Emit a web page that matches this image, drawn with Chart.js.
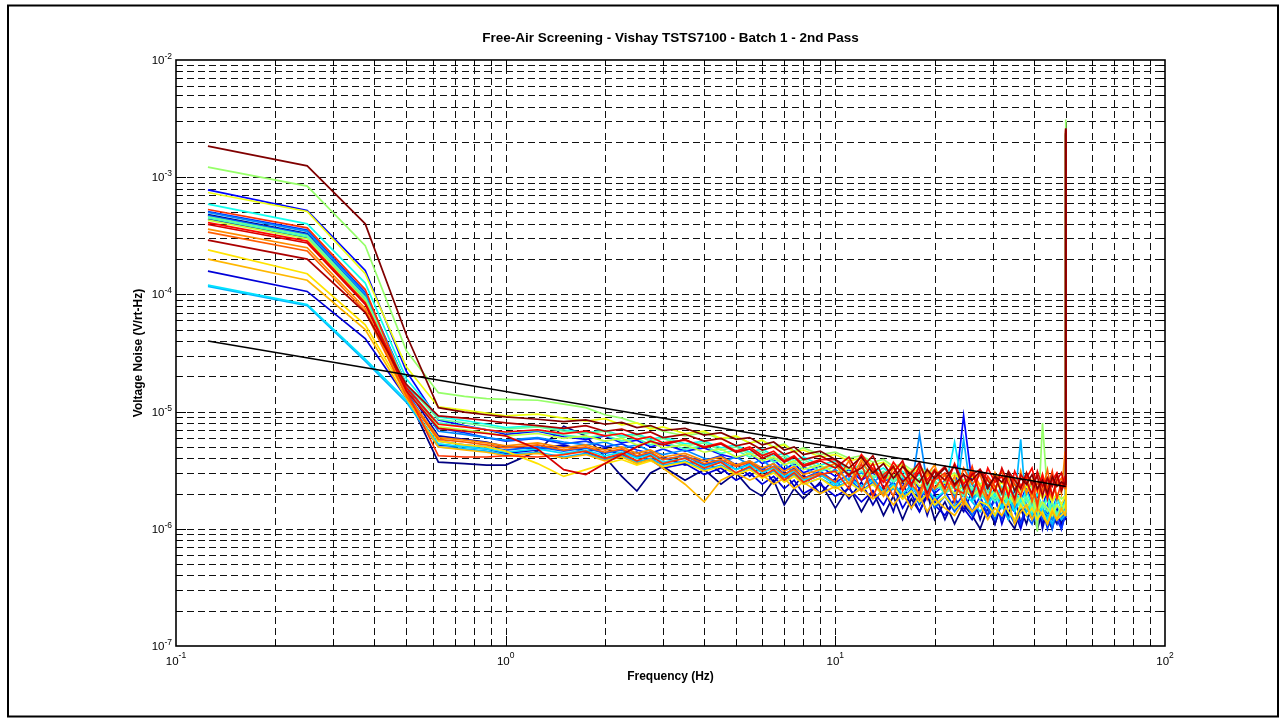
<!DOCTYPE html>
<html>
<head>
<meta charset="utf-8">
<script src="https://cdn.jsdelivr.net/npm/chart.js@4.4.1/dist/chart.umd.min.js"></script>
<style>
html, body { margin: 0; padding: 0; background: #fff; }
</style>
</head>
<body>
<canvas id="noiseChart" width="1286" height="723"></canvas>
<script>
// frequency bins (Hz)
var freqHz = [0.125,0.25,0.375,0.5,0.625,0.75,0.875,1,1.25,1.5,
  1.75,2,2.25,2.5,2.75,3,3.5,4,4.5,5,
  5.5,6,6.5,7,7.5,8,9,10,11,12,
  13,14,15,16,17,18,19,20,21.5,23,
  24.5,26,27.5,29,30.5,32,33.5,35,36.5,38,
  39.5,41,42.5,44,45.5,47,48.5,49.75,50];

// voltage noise per sensor, in uV/rt-Hz
var sensor01 = [480,330,95,14,3.7,3.6,3.5,3.5,4.6,7.5, 6.2,4.1,2.8,2.1,3.0,3.4,2.6,3.2,2.4,3.0, 2.2,1.9,2.6,1.6,2.2,1.8,2.5,1.5,2.3,1.4, 2.1,1.3,1.9,1.2,1.8,1.4,2.0,1.2,1.7,1.1, 1.6,1.3,1.0,1.5,1.1,1.7,1.2,1.0,1.5,1.1, 1.6,1.0,1.4,1.2,1.0,1.5,1.1,1.3,2400];
var sensor02 = [440,305,90,16,6.2,5.8,5.5,5.0,4.8,5.2, 4.6,4.9,4.2,4.5,3.8,4.1,3.5,3.9,3.0,3.6, 2.8,3.4,2.5,3.1,2.3,2.9,2.0,2.7,1.8,2.5, 1.6,2.3,1.4,2.6,1.5,2.2,1.3,2.0,1.2,1.8, 1.4,2.1,1.2,1.9,1.1,1.7,1.3,2.0,1.1,1.6, 1.2,1.8,1.0,1.5,1.3,1.1,1.6,1.2,2300];
var sensor03 = [158,106,42,13,5.2,5.0,4.8,4.4,4.7,5.1, 4.5,4.0,4.3,3.7,3.9,3.3,3.6,2.9,3.3,2.6, 3.0,2.4,2.8,2.2,2.6,2.0,2.4,1.9,2.2,1.7, 2.1,1.6,2.3,1.5,2.0,1.4,1.9,1.6,1.3,1.8, 1.5,1.2,1.7,1.3,1.9,1.1,1.6,1.4,1.0,1.5, 1.3,1.7,1.1,1.4,1.2,1.6,1.0,1.3,2350];
var sensor04 = [780,520,160,22,8.5,7.6,7.0,6.4,6.8,6.1, 5.8,6.2,5.4,5.7,5.0,5.3,4.6,4.9,4.3,4.0, 4.4,3.6,3.9,3.2,3.6,3.0,3.4,2.8,3.2,2.6, 3.0,2.5,2.9,2.3,2.7,2.2,2.5,2.0,2.4,1.9, 9.2,2.4,1.8,2.3,1.7,2.2,1.6,2.1,1.7,2.3, 1.6,2.0,1.5,2.2,1.4,1.9,1.5,1.8,2450];
var sensor05 = [510,355,104,17,7.2,6.6,6.0,5.6,5.9,5.3, 5.6,5.0,5.3,4.7,4.4,4.8,4.1,3.8,4.2,3.5, 3.8,3.2,3.6,2.9,3.3,2.7,3.1,2.5,2.9,2.3, 2.7,2.1,2.5,1.9,2.4,1.8,2.2,1.7,2.1,1.5, 2.0,1.4,1.9,1.3,1.8,1.2,1.7,1.4,1.1,1.6, 1.3,1.1,1.5,1.0,1.4,1.2,1.0,1.3,2300];
var sensor06 = [470,325,97,15,5.6,5.2,5.0,4.7,5.0,4.6, 4.9,4.4,4.7,4.1,4.4,3.9,4.2,3.5,3.8,3.2, 3.6,3.0,3.4,2.7,3.1,2.5,2.9,2.4,2.7,2.1, 2.5,2.0,2.4,1.8,2.2,1.6,2.1,1.5,1.9,1.4, 1.8,1.3,1.7,1.5,1.2,1.8,1.4,1.1,1.6,1.3, 1.1,1.5,1.2,1.6,1.0,1.4,1.2,1.5,2350];
var sensor07 = [500,345,101,17,6.8,6.4,6.0,5.7,6.0,5.5, 5.2,5.5,4.9,5.2,4.6,4.3,4.7,4.0,3.7,4.1, 3.5,3.9,3.2,3.6,3.0,3.4,2.8,3.2,2.6,3.0, 2.5,2.9,2.3,2.7,2.2,6.4,2.4,2.1,2.6,1.9, 2.4,1.8,2.2,1.7,2.1,1.6,2.0,1.5,1.9,1.4, 1.8,1.3,1.7,1.5,1.2,1.6,1.3,1.5,2400];
var sensor08 = [117,80,27,12,5.0,4.8,4.6,4.3,4.5,4.1, 4.4,3.9,4.2,3.7,4.0,3.5,3.8,3.2,3.5,3.0, 3.3,2.8,3.1,2.6,2.9,2.4,2.7,2.3,2.5,2.1, 2.4,2.0,2.2,1.9,2.1,1.7,2.0,1.6,1.9,1.5, 5.8,1.7,1.4,1.8,1.3,1.6,1.2,1.7,5.8,1.4, 1.6,1.2,1.5,1.3,1.1,1.4,1.2,1.3,2300];
var sensor09 = [120,82,28,12.5,5.3,5.0,4.8,4.5,4.8,4.4, 4.7,4.2,4.5,4.0,4.3,3.7,4.0,3.4,3.7,3.2, 3.5,3.0,3.3,2.8,3.1,2.6,2.9,2.4,2.7,2.3, 2.6,2.1,2.4,2.0,2.3,1.9,2.2,1.8,2.1,5.5, 2.0,1.7,2.1,1.6,2.0,1.5,1.9,1.4,1.8,1.6, 1.3,1.7,1.4,1.2,1.6,1.3,1.5,1.4,2350];
var sensor10 = [590,400,125,19,9.0,8.4,7.8,7.3,7.6,7.0, 6.6,6.9,6.2,6.5,5.8,6.1,5.3,5.6,4.9,5.2, 4.5,4.8,4.2,4.4,3.8,4.1,3.5,3.8,3.2,3.5, 3.0,3.3,2.8,3.1,2.6,2.9,2.5,2.8,2.3,2.6, 2.2,2.5,2.0,2.4,1.9,2.3,1.8,2.2,1.7,2.1, 1.6,2.0,1.5,1.9,1.4,1.8,1.5,1.7,2400];
var sensor11 = [450,310,92,16,8.0,7.5,7.0,6.6,6.9,6.3, 6.0,6.3,5.6,5.9,5.2,5.5,4.8,5.1,4.4,4.7, 4.1,4.4,3.7,4.0,3.4,3.7,3.1,3.4,2.9,3.1, 2.7,3.0,2.5,2.8,2.3,2.6,2.2,2.5,2.0,2.3, 1.9,2.2,1.8,2.1,1.7,2.0,1.6,1.9,1.5,1.8, 1.4,1.7,1.5,1.8,1.3,1.6,1.4,1.6,2400];
var sensor12 = [460,318,94,17,8.6,8.0,7.5,7.1,7.4,6.8, 6.5,6.8,6.0,6.3,5.6,5.9,5.1,5.4,4.7,5.0, 4.3,4.6,3.9,4.2,3.6,3.9,3.3,3.6,3.0,3.3, 2.8,3.1,2.6,2.9,2.4,2.7,2.3,2.6,2.1,2.4, 2.0,2.3,1.9,2.2,1.8,2.1,1.7,2.0,1.6,1.9, 1.5,1.8,1.6,1.4,1.7,1.3,1.6,1.5,2450];
var sensor13 = [1220,840,260,33,14.5,13.5,12.9,12.7,12.5,11.6, 10.8,9.4,8.8,8.0,7.4,6.8,6.2,6.6,5.8,6.1, 5.4,5.7,5.0,5.3,4.6,4.9,4.3,4.5,4.0,4.2, 3.7,3.9,3.4,3.6,3.2,3.4,3.0,3.2,2.8,3.0, 2.6,2.8,2.4,2.7,2.3,2.5,2.2,2.4,2.1,2.3, 2.3,0.95,8.0,2.0,1.7,2.0,1.8,1.9,3100];
var sensor14 = [430,298,88,15,7.4,7.0,6.6,6.2,6.5,5.9, 6.2,5.6,5.9,5.2,5.5,4.9,5.2,4.5,4.8,4.1, 4.4,3.8,4.1,3.5,3.8,3.2,3.5,3.0,3.3,2.8, 3.1,2.6,2.9,2.5,2.8,2.3,2.6,2.2,2.5,2.0, 2.3,1.9,2.2,1.8,2.1,1.7,2.0,1.6,1.9,1.5, 1.8,1.4,1.7,1.5,1.3,1.6,1.4,1.6,2400];
var sensor15 = [740,510,150,24,11.0,10.3,9.7,9.2,9.5,8.8, 8.3,8.7,7.7,8.0,7.1,7.4,6.5,6.8,5.9,6.2, 5.4,5.7,4.9,5.2,4.5,4.7,4.1,4.3,3.8,4.0, 3.5,3.7,3.2,3.5,3.0,3.3,2.8,3.1,2.6,2.9, 2.5,2.8,2.3,2.6,2.2,2.5,2.1,2.4,2.0,2.3, 1.9,2.2,1.8,2.1,1.7,2.0,1.6,1.9,2500];
var sensor16 = [240,150,55,14,5.6,5.2,5.0,4.6,3.6,2.8, 3.2,3.6,3.9,3.5,3.8,3.4,3.7,3.1,3.4,2.9, 3.2,2.7,3.0,2.5,2.8,2.4,2.7,2.2,2.5,2.1, 2.4,1.9,2.3,1.8,2.1,1.7,2.0,1.6,1.9,1.5, 1.8,1.4,1.7,1.6,1.3,1.8,1.4,1.2,1.6,1.3, 1.5,1.2,1.4,1.1,1.5,1.2,1.3,1.4,2350];
var sensor17 = [200,132,50,13,5.0,4.7,4.5,4.2,4.4,4.0, 4.3,3.8,4.1,3.6,3.9,3.3,2.4,1.7,2.6,3.0, 2.6,2.9,2.4,2.7,2.2,2.5,2.0,2.3,1.9,2.2, 1.8,2.1,1.6,2.0,1.5,1.9,1.4,1.8,1.5,1.3, 1.7,1.4,1.6,1.2,1.5,1.3,1.7,1.1,1.4,1.6, 1.2,1.5,1.3,1.1,1.4,1.2,1.5,1.3,2400];
var sensor18 = [360,250,76,14,6.0,5.7,5.4,5.1,5.4,4.9, 5.2,4.7,5.0,4.4,4.7,4.1,4.4,3.8,4.1,3.5, 3.8,3.3,3.6,3.1,3.4,2.9,3.2, 3.6,2.4,3.9,2.6,1.9,3.4,2.2,3.1,1.8,2.9, 3.5,2.0,2.8,1.6,3.2,2.3,1.7,3.0,2.1,2.7, 1.6,3.1,2.0,2.6,1.5,2.9,2.2,1.8,2.8,2.0, 4.5,2400];
var sensor19 = [340,235,72,13.5,5.8,5.5,5.2,4.9,5.2,4.7, 5.0,4.5,4.8,4.2,4.5,3.9,4.2,3.6,3.9,3.4, 3.7,3.1,3.4,2.9,3.2,2.7,3.0, 2.5,3.8,2.1,3.3,2.7,1.9,3.5,2.4,2.0,3.2, 2.2,2.9,1.7,3.3,2.4,2.9,1.8,2.6,3.1,1.9, 2.7,2.2,3.0,1.7,2.5,2.1,3.2,1.9,2.4,2.7, 2.2,2450];
var sensor20 = [530,370,110,15,4.2,4.1,4.1,4.2,4.1,4.3, 4.6,4.0,4.4,3.8,4.2,3.6,4.0,3.3,3.7,3.0, 3.4,2.8,3.2,2.6,3.0,2.5,2.9, 3.1,2.2,3.6,1.9,2.9,3.4,2.1,2.7,3.3,1.8, 2.6,3.0,2.2,2.0,3.4,1.9,2.8,2.3,1.7,3.0, 2.4,1.9,2.9,2.5,1.6,2.8,2.2,3.1,1.8,2.5, 2.4,2500];
var sensor21 = [410,285,85,16,7.8,7.4,7.0,6.7,7.0,6.5, 6.8,6.2,6.5,5.8,6.1,5.4,5.7,5.0,5.4,4.6, 5.0,4.2,4.6,3.8,4.2,3.5,3.9, 3.9,2.8,4.3,3.2,2.5,3.7,2.9,2.3,3.5,2.6, 3.2,2.2,3.6,2.4,3.0,2.0,3.3,2.5,2.8,1.9, 3.1,2.3,2.7,3.3,2.1,2.9,1.8,2.6,3.0,2.2, 2.8,2550];
var sensor22 = [395,275,82,15,7.2,6.8,6.5,6.2,4.8,3.2, 2.9,3.6,4.3,5.0,5.6,5.2,5.8,4.9,5.3,4.5, 4.8,4.0,4.4,3.7,4.1,3.4,3.8, 3.3,4.1,2.6,3.6,2.2,3.0,3.8,2.4,3.1,2.0, 2.8,3.4,2.3,2.9,1.9,3.2,2.6,2.1,3.3,2.4, 1.8,2.9,2.5,2.0,3.1,2.3,2.7,1.9,2.6,3.0, 2.3,2550];
var sensor23 = [290,200,70,17,9.2,8.8,8.4,8.0,7.6,7.2, 7.6,6.8,7.1,6.4,6.7,6.0,6.4,5.6,5.9,5.1, 5.4,4.7,5.0,4.3,4.6,3.9,4.2, 3.6,2.9,3.3,4.2,2.7,3.4,2.5,3.0,3.7,2.4, 3.1,2.6,3.5,2.2,2.9,3.2,2.3,2.8,2.0,3.1, 2.6,2.2,3.0,2.4,2.8,1.9,2.7,2.3,2.9,2.1, 2.5,2600];
var sensor24 = [1840,1250,400,45,10.8,9.9,9.4,9.0,8.6,8.2, 8.5,7.8,8.1,7.3,7.6,6.9,7.2,6.3,6.6,5.8, 6.0,5.2,5.5,4.7,5.0,4.3,4.6, 3.9,3.3,4.1,3.0,3.6,2.7,3.4,2.9,2.5,3.2, 2.7,3.3,2.4,2.9,2.6,3.1,2.2,2.8,2.5,3.0, 2.1,2.7,2.4,2.9,2.2,2.6,2.0,2.8,2.3,2.5, 2.4,2600];

// limit line
var limitFreq = [0.125, 50];
var limitNoise = [40, 2.3];

// axis decades (exponents)
var xDecades = [-1, 0, 1, 2];
var yDecades = [-7, -6, -5, -4, -3, -2];

var sensors = [sensor01,sensor02,sensor03,sensor04,sensor05,sensor06,sensor07,sensor08,
  sensor09,sensor10,sensor11,sensor12,sensor13,sensor14,sensor15,sensor16,
  sensor17,sensor18,sensor19,sensor20,sensor21,sensor22,sensor23,sensor24];

var fontFam = "'Liberation Sans', Arial, Helvetica, sans-serif";

function jet(t) {
	function c(v) { return Math.max(0, Math.min(1, v)); }
	var r = c(1.5 - Math.abs(4 * t - 3));
	var g = c(1.5 - Math.abs(4 * t - 2));
	var b = c(1.5 - Math.abs(4 * t - 1));
	return 'rgb(' + Math.round(r * 255) + ',' + Math.round(g * 255) + ',' + Math.round(b * 255) + ')';
}

var datasets = [];
for (var i = 0; i < sensors.length; i++) {
	var pts = [];
	var n = Math.min(sensors[i].length, freqHz.length);
	for (var k = 0; k < n; k++) {
		pts.push({x: freqHz[k], y: sensors[i][k] * 1e-6});
	}
	datasets.push({
		data: pts,
		borderColor: jet(i / (sensors.length - 1)),
		borderWidth: 1.7,
		pointRadius: 0,
		tension: 0,
		order: sensors.length - i
	});
}
datasets.push({
	data: limitFreq.map(function(f, k) { return {x: f, y: limitNoise[k] * 1e-6}; }),
	borderColor: '#000',
	borderWidth: 1.5,
	pointRadius: 0,
	order: 0
});

function tickList(decades) {
	var out = [];
	for (var d = 0; d < decades.length - 1; d++) {
		for (var m = 1; m <= 9; m++) {
			if (d === 0 && m === 1) continue;
			out.push({v: m * Math.pow(10, decades[d]), major: m === 1});
		}
	}
	return out;
}

var matlabAxes = {
	id: 'matlabAxes',
	beforeDraw: function(chart) {
		var ctx = chart.ctx;
		ctx.save();
		ctx.fillStyle = '#fff';
		ctx.fillRect(0, 0, chart.width, chart.height);
		ctx.strokeStyle = '#000';
		ctx.lineWidth = 2;
		ctx.strokeRect(8, 5.5, 1270, 711);
		ctx.restore();
	},
	beforeDatasetsDraw: function(chart) {
		var ctx = chart.ctx, a = chart.chartArea;
		var xs = chart.scales.x, ys = chart.scales.y;
		ctx.save();
		ctx.beginPath();
		ctx.rect(a.left, a.top, a.right - a.left, a.bottom - a.top);
		ctx.clip();
		ctx.strokeStyle = '#111';
		ctx.lineWidth = 1;
		ctx.setLineDash([7, 4]);
		tickList(xDecades).forEach(function(t) {
			var px = Math.round(xs.getPixelForValue(t.v)) + 0.5;
			ctx.beginPath(); ctx.moveTo(px, a.bottom); ctx.lineTo(px, a.top); ctx.stroke();
		});
		tickList(yDecades).forEach(function(t) {
			var py = Math.round(ys.getPixelForValue(t.v)) + 0.5;
			ctx.beginPath(); ctx.moveTo(a.left, py); ctx.lineTo(a.right, py); ctx.stroke();
		});
		ctx.restore();
	},
	afterDatasetsDraw: function(chart) {
		var ctx = chart.ctx, a = chart.chartArea;
		var xs = chart.scales.x, ys = chart.scales.y;
		ctx.save();
		ctx.strokeStyle = '#000';
		ctx.lineWidth = 1;
		tickList(xDecades).forEach(function(t) {
			var px = Math.round(xs.getPixelForValue(t.v)) + 0.5;
			var len = t.major ? 10 : 6;
			ctx.beginPath();
			ctx.moveTo(px, a.bottom); ctx.lineTo(px, a.bottom - len);
			ctx.moveTo(px, a.top); ctx.lineTo(px, a.top + len);
			ctx.stroke();
		});
		tickList(yDecades).forEach(function(t) {
			var py = Math.round(ys.getPixelForValue(t.v)) + 0.5;
			var len = t.major ? 10 : 6;
			ctx.beginPath();
			ctx.moveTo(a.left, py); ctx.lineTo(a.left + len, py);
			ctx.moveTo(a.right, py); ctx.lineTo(a.right - len, py);
			ctx.stroke();
		});
		ctx.lineWidth = 1.6;
		ctx.strokeRect(Math.round(a.left), Math.round(a.top), Math.round(a.right - a.left), Math.round(a.bottom - a.top));

		// tick labels 10^n
		ctx.fillStyle = '#000';
		ctx.textBaseline = 'alphabetic';
		var baseFont = '11.5px ' + fontFam, supFont = '8.5px ' + fontFam;
		xDecades.forEach(function(e) {
			var px = xs.getPixelForValue(Math.pow(10, e));
			ctx.font = baseFont; var w10 = ctx.measureText('10').width;
			ctx.font = supFont; var ws = ctx.measureText(String(e)).width;
			var left = px - (w10 + ws) / 2;
			ctx.textAlign = 'left';
			ctx.font = baseFont; ctx.fillText('10', left, a.bottom + 19);
			ctx.font = supFont; ctx.fillText(String(e), left + w10, a.bottom + 12);
		});
		yDecades.forEach(function(e) {
			var py = ys.getPixelForValue(Math.pow(10, e));
			ctx.font = supFont; var ws = ctx.measureText(String(e)).width;
			var right = a.left - 4;
			ctx.textAlign = 'left';
			ctx.fillText(String(e), right - ws, py - 1);
			ctx.textAlign = 'right';
			ctx.font = baseFont; ctx.fillText('10', right - ws, py + 4);
		});

		// titles
		ctx.textAlign = 'center';
		ctx.font = 'bold 13.5px ' + fontFam;
		ctx.fillText('Free-Air Screening - Vishay TSTS7100 - Batch 1 - 2nd Pass', (a.left + a.right) / 2, 42);
		ctx.font = 'bold 12px ' + fontFam;
		ctx.fillText('Frequency (Hz)', (a.left + a.right) / 2, 680);
		ctx.translate(141.5, (a.top + a.bottom) / 2);
		ctx.rotate(-Math.PI / 2);
		ctx.fillText('Voltage Noise (V/rt-Hz)', 0, 0);
		ctx.restore();
	}
};

var ctx = document.getElementById('noiseChart');
var noiseChart = new Chart(ctx, {
	type: 'line',
	data: {datasets: datasets},
	options: {
		responsive: false,
		animation: false,
		devicePixelRatio: 1,
		layout: {padding: {left: 176, right: 121, top: 60, bottom: 77}},
		plugins: {
			legend: {display: false},
			title: {display: false},
			tooltip: {enabled: false}
		},
		scales: {
			x: {type: 'logarithmic', min: 0.1, max: 100, display: false},
			y: {type: 'logarithmic', min: 1e-7, max: 1e-2, display: false}
		}
	},
	plugins: [matlabAxes]
});
</script>
</body>
</html>
